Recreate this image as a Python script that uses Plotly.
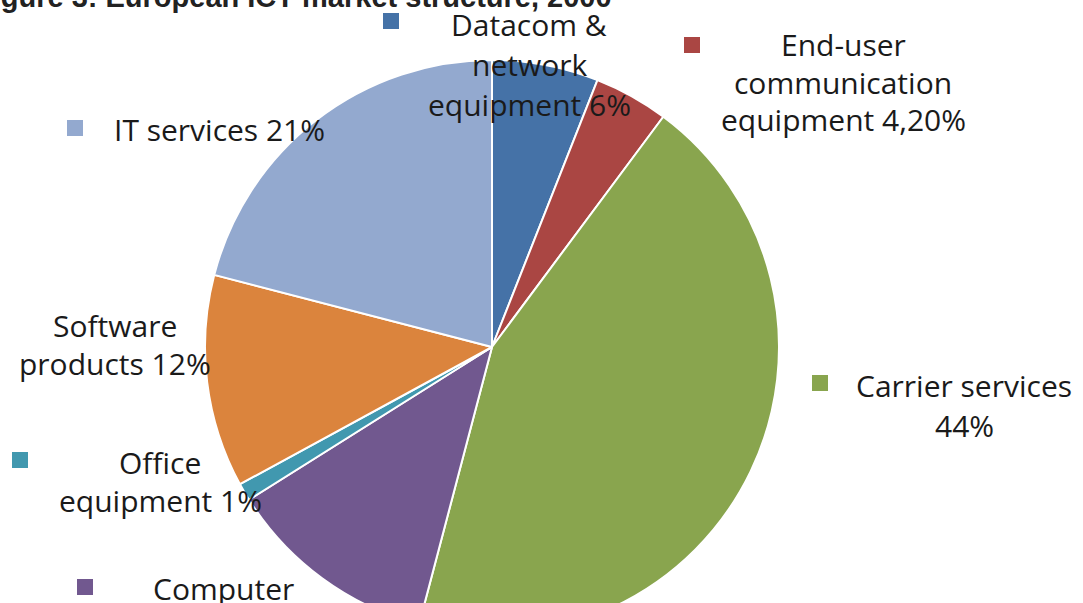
import plotly.graph_objects as go

# market shares (%), clockwise from 12 o'clock
segments = ['Datacom & network equipment', 'End-user communication equipment',
            'Carrier services', 'Computer', 'Office equipment',
            'Software products', 'IT services']
shares = [6, 4.2, 44, 12, 1, 12, 21]
label_lines = [
    ['Datacom &', 'network', 'equipment 6%'],
    ['End-user', 'communication', 'equipment 4,20%'],
    ['Carrier services', '44%'],
    ['Computer', '12%'],
    ['Office', 'equipment 1%'],
    ['Software', 'products 12%'],
    ['IT services 21%'],
]
colors = ['#4572A7', '#AA4643', '#89A54E', '#71588F', '#4198AF', '#DB843D', '#93A9CF']

W, H = 1083, 650


def px(x):
    return x / W


def py(y):
    return 1 - y / H


fig = go.Figure()
fig.add_trace(go.Pie(
    labels=segments,
    values=shares,
    sort=False,
    direction='clockwise',
    rotation=0,
    textinfo='none',
    hoverinfo='label+value',
    marker=dict(colors=colors, line=dict(color='white', width=2)),
    domain=dict(x=[px(205), px(779)], y=[py(634), py(60)]),
    showlegend=False,
))

# label layout: (text centre x, first line y, line spacing, square x, square y or None)
label_pos = [
    (529, 25, 40, 391, 21),
    (843, 45, 37, 692, 45),
    (964, 385, 40, 820, 383),
    (223, 588, 40, 85, 587),
    (160, 462, 38, 20, 460),
    (115, 325, 38, None, None),
    (219, 130, 38, 75, 128),
]

font = dict(family='Open Sans', size=30, color='#1a1a1a')
for lines, (cx, y0, dy, sx, sy), col in zip(label_lines, label_pos, colors):
    for i, line in enumerate(lines):
        fig.add_annotation(text=line, x=px(cx), y=py(y0 + i * dy), xref='paper', yref='paper',
                           xanchor='center', yanchor='middle', showarrow=False, font=font)
    if sx is not None:
        fig.add_shape(type='rect', xref='paper', yref='paper',
                      x0=px(sx - 8), x1=px(sx + 8), y0=py(sy + 8), y1=py(sy - 8),
                      fillcolor=col, line=dict(width=0))

fig.add_annotation(text='<b>Figure 3: European ICT market structure, 2000</b>',
                   x=px(-27), y=py(15), xref='paper', yref='paper',
                   xanchor='left', yanchor='bottom', showarrow=False,
                   font=dict(family='Liberation Sans', size=29, color='#222222'))

fig.update_layout(
    width=W, height=H,
    margin=dict(l=0, r=0, t=0, b=0),
    paper_bgcolor='white',
    plot_bgcolor='white',
)

fig.write_html('out.html', config={'displayModeBar': False},
               post_script="document.body.style.margin='0';document.body.style.overflow='hidden';")
